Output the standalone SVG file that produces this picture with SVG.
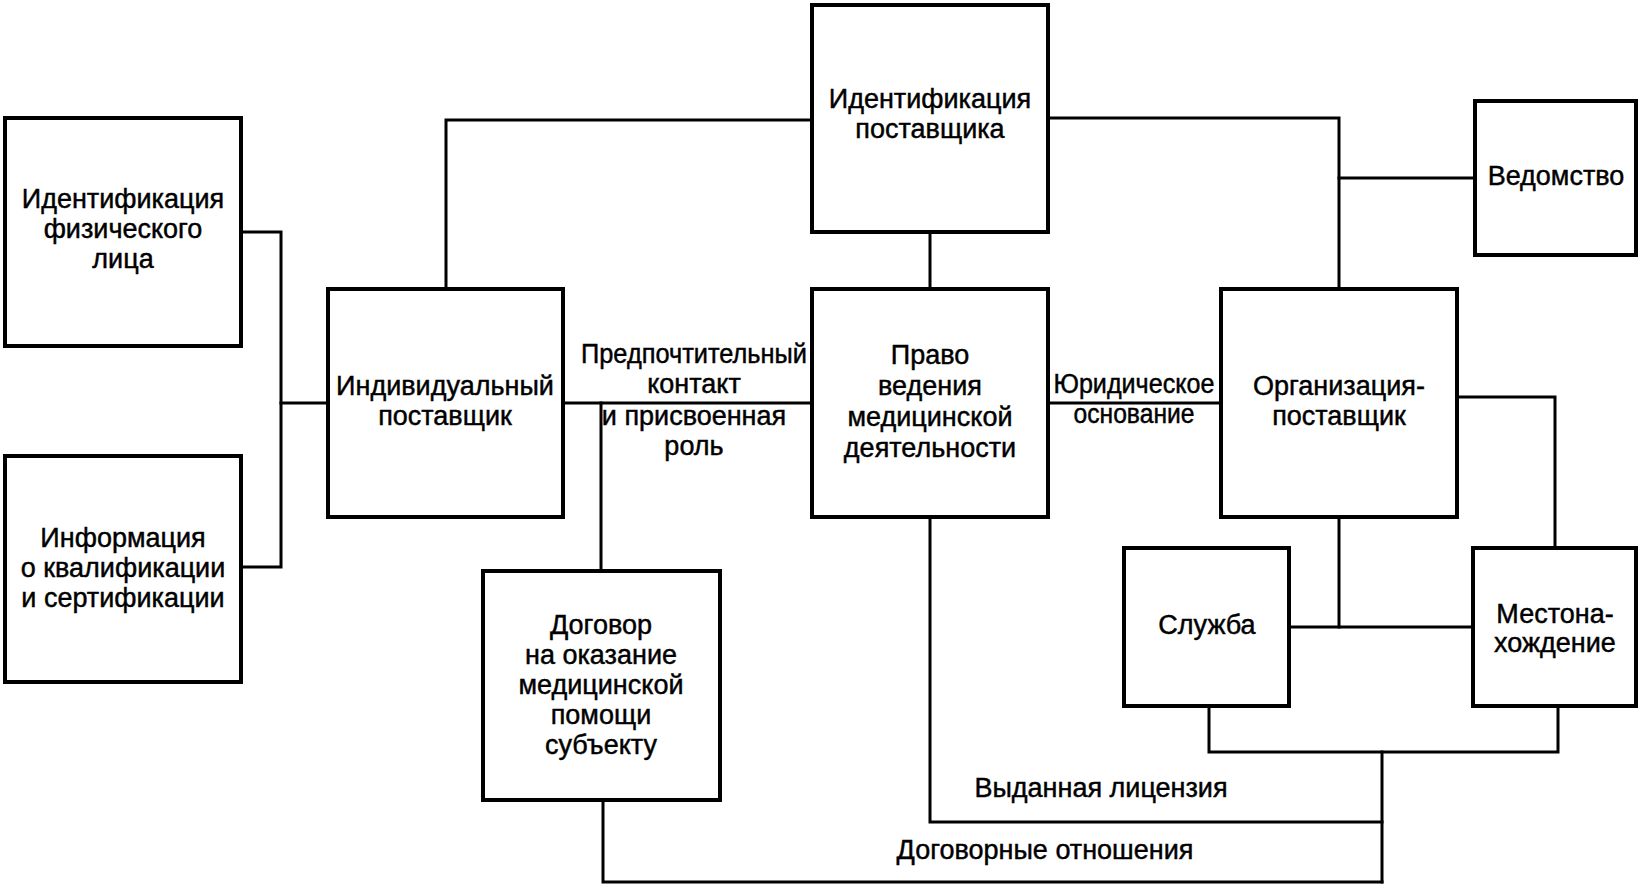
<svg xmlns="http://www.w3.org/2000/svg" width="1642" height="885" viewBox="0 0 1642 885">
<style>
.box{fill:#fff;stroke:#000;stroke-width:4}
.ln{fill:none;stroke:#000;stroke-width:3;stroke-linecap:square}
text{font-family:"Liberation Sans",Arial,sans-serif;font-size:27px;fill:#000;stroke:#000;stroke-width:0.45;text-anchor:middle}
</style>
<rect width="1642" height="885" fill="#fff"/>
<g id="connectors">
<polyline class="ln" points="241,232 281,232 281,567 241,567"/>
<line class="ln" x1="281" y1="403" x2="328" y2="403"/>
<polyline class="ln" points="446,289 446,120 812,120"/>
<polyline class="ln" points="1048,118 1339,118 1339,289"/>
<line class="ln" x1="1339" y1="178" x2="1475" y2="178"/>
<line class="ln" x1="930" y1="232" x2="930" y2="289"/>
<line class="ln" x1="563" y1="403" x2="812" y2="403"/>
<line class="ln" x1="601" y1="403" x2="601" y2="571"/>
<line class="ln" x1="1048" y1="403" x2="1221" y2="403"/>
<polyline class="ln" points="1457,397 1555,397 1555,548"/>
<line class="ln" x1="1339" y1="517" x2="1339" y2="627"/>
<line class="ln" x1="1289" y1="627" x2="1473" y2="627"/>
<polyline class="ln" points="1209,706 1209,752 1558,752 1558,706"/>
<line class="ln" x1="1382" y1="752" x2="1382" y2="882"/>
<polyline class="ln" points="930,517 930,822 1382,822"/>
<polyline class="ln" points="603,800 603,882 1382,882"/>
<text x="694" y="363" textLength="226" lengthAdjust="spacingAndGlyphs">Предпочтительный</text>
<text x="694" y="393">контакт</text>
<text x="694" y="425">и присвоенная</text>
<text x="694" y="455">роль</text>
<text x="1134" y="393" textLength="161" lengthAdjust="spacingAndGlyphs">Юридическое</text>
<text x="1134" y="423" textLength="121" lengthAdjust="spacingAndGlyphs">основание</text>
<text x="1101" y="797">Выданная лицензия</text>
<text x="1045" y="859">Договорные отношения</text>
</g>
<g id="n-ident-phys">
<rect class="box" x="5" y="118" width="236" height="228"/>
<text x="123" y="208">Идентификация</text>
<text x="123" y="238">физического</text>
<text x="123" y="268">лица</text>
</g>
<g id="n-qualif">
<rect class="box" x="5" y="456" width="236" height="226"/>
<text x="123" y="547">Информация</text>
<text x="123" y="577">о квалификации</text>
<text x="123" y="607">и сертификации</text>
</g>
<g id="n-indiv">
<rect class="box" x="328" y="289" width="235" height="228"/>
<text x="445" y="395">Индивидуальный</text>
<text x="445" y="425">поставщик</text>
</g>
<g id="n-ident-prov">
<rect class="box" x="812" y="5" width="236" height="227"/>
<text x="930" y="108">Идентификация</text>
<text x="930" y="138">поставщика</text>
</g>
<g id="n-right">
<rect class="box" x="812" y="289" width="236" height="228"/>
<text x="930" y="364">Право</text>
<text x="930" y="395">ведения</text>
<text x="930" y="426">медицинской</text>
<text x="930" y="457">деятельности</text>
</g>
<g id="n-agency">
<rect class="box" x="1475" y="101" width="161" height="154"/>
<text x="1556" y="185">Ведомство</text>
</g>
<g id="n-org">
<rect class="box" x="1221" y="289" width="236" height="228"/>
<text x="1339" y="395">Организация-</text>
<text x="1339" y="425">поставщик</text>
</g>
<g id="n-service">
<rect class="box" x="1124" y="548" width="165" height="158"/>
<text x="1207" y="634">Служба</text>
</g>
<g id="n-location">
<rect class="box" x="1473" y="548" width="163" height="158"/>
<text x="1555" y="623">Местона-</text>
<text x="1555" y="652">хождение</text>
</g>
<g id="n-contract">
<rect class="box" x="483" y="571" width="237" height="229"/>
<text x="601" y="634">Договор</text>
<text x="601" y="664">на оказание</text>
<text x="601" y="694">медицинской</text>
<text x="601" y="724">помощи</text>
<text x="601" y="754">субъекту</text>
</g>
</svg>
